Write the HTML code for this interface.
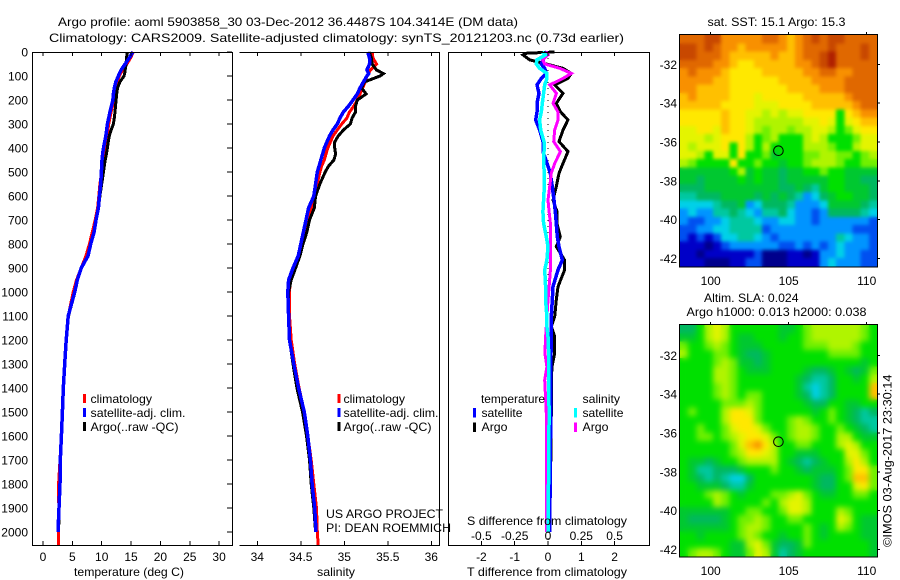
<!DOCTYPE html>
<html>
<head>
<meta charset="utf-8">
<title>Argo profile</title>
<style>
html,body{margin:0;padding:0;background:#fff;}
svg{display:block;}
text{font-family:"Liberation Sans",sans-serif;font-size:12px;fill:#000;}
</style>
</head>
<body>
<svg id="chart" xmlns="http://www.w3.org/2000/svg" width="900" height="580" viewBox="0 0 900 580">
  <defs>
    <filter id="blur-sst" x="-10%" y="-10%" width="120%" height="120%" color-interpolation-filters="sRGB"><feGaussianBlur stdDeviation="1.8"/></filter>
    <filter id="blur-sla" x="-10%" y="-10%" width="120%" height="120%" color-interpolation-filters="sRGB"><feGaussianBlur stdDeviation="3"/></filter>
    <clipPath id="clip-sst"><rect x="680" y="35" width="197" height="231.5"/></clipPath>
    <clipPath id="clip-sla"><rect x="680" y="325" width="197" height="231.5"/></clipPath>
  </defs>
  <rect x="0" y="0" width="900" height="580" fill="#fff"/>
  <text x="58" y="26" textLength="460" lengthAdjust="spacingAndGlyphs">Argo profile: aoml 5903858_30 03-Dec-2012 36.4487S 104.3414E (DM data)</text>
  <text x="49" y="42" textLength="575" lengthAdjust="spacingAndGlyphs">Climatology: CARS2009. Satellite-adjusted climatology: synTS_20121203.nc (0.73d earlier)</text>

  <g id="marks"></g>

  <text x="74" y="576" textLength="110" lengthAdjust="spacingAndGlyphs">temperature (deg C)</text>
  <text x="317" y="576" textLength="38" lengthAdjust="spacingAndGlyphs">salinity</text>
  <text x="467" y="576" textLength="160" lengthAdjust="spacingAndGlyphs">T difference from climatology</text>
  <text x="467" y="525" textLength="160" lengthAdjust="spacingAndGlyphs">S difference from climatology</text>

  <g>
    <rect x="83" y="394" width="3" height="9" fill="#ff0000"/>
    <text x="90.5" y="403" textLength="61.5" lengthAdjust="spacingAndGlyphs">climatology</text>
    <rect x="83" y="408" width="3" height="9" fill="#0000ff"/>
    <text x="90.5" y="417" textLength="95" lengthAdjust="spacingAndGlyphs">satellite-adj. clim.</text>
    <rect x="83" y="422" width="3" height="9" fill="#000"/>
    <text x="90.5" y="431" textLength="88" lengthAdjust="spacingAndGlyphs">Argo(..raw -QC)</text>
  </g>
  <g>
    <rect x="337.5" y="394" width="3" height="9" fill="#ff0000"/>
    <text x="343.5" y="403" textLength="61.5" lengthAdjust="spacingAndGlyphs">climatology</text>
    <rect x="337.5" y="408" width="3" height="9" fill="#0000ff"/>
    <text x="343.5" y="417" textLength="95" lengthAdjust="spacingAndGlyphs">satellite-adj. clim.</text>
    <rect x="337.5" y="422" width="3" height="9" fill="#000"/>
    <text x="343.5" y="431" textLength="88" lengthAdjust="spacingAndGlyphs">Argo(..raw -QC)</text>
  </g>
  <text x="326" y="518" textLength="117" lengthAdjust="spacingAndGlyphs">US ARGO PROJECT</text>
  <text x="326" y="532" textLength="125" lengthAdjust="spacingAndGlyphs">PI: DEAN ROEMMICH</text>

  <g>
    <text x="481" y="403" textLength="64" lengthAdjust="spacingAndGlyphs">temperature</text>
    <rect x="473" y="408" width="3" height="9.5" fill="#0000ff"/>
    <text x="481.5" y="417" textLength="41" lengthAdjust="spacingAndGlyphs">satellite</text>
    <rect x="473" y="422.5" width="3" height="9.5" fill="#000"/>
    <text x="481.5" y="431" textLength="26" lengthAdjust="spacingAndGlyphs">Argo</text>
    <text x="582.5" y="403" textLength="37.5" lengthAdjust="spacingAndGlyphs">salinity</text>
    <rect x="574" y="408" width="3" height="9.5" fill="#00ffff"/>
    <text x="582.5" y="417" textLength="41" lengthAdjust="spacingAndGlyphs">satellite</text>
    <rect x="574" y="422.5" width="3" height="9.5" fill="#ff00ff"/>
    <text x="582.5" y="431" textLength="26" lengthAdjust="spacingAndGlyphs">Argo</text>
  </g>

  <text x="707.5" y="26" textLength="138" lengthAdjust="spacingAndGlyphs">sat. SST: 15.1 Argo: 15.3</text>
  <text x="704" y="302" textLength="94.5" lengthAdjust="spacingAndGlyphs">Altim. SLA: 0.024</text>
  <text x="686.5" y="316" textLength="180" lengthAdjust="spacingAndGlyphs">Argo h1000: 0.013 h2000: 0.038</text>
  <text transform="translate(891.5 547) rotate(-90)" textLength="172.5" lengthAdjust="spacingAndGlyphs">©IMOS 03-Aug-2017 23:30:14</text>
</svg>

<script>
// ---------- profile data ----------
const profileDepths = [0,25,50,75,90,100,125,150,175,200,225,250,275,300,325,350,375,400,425,450,475,500,550,600,650,700,750,800,850,900,950,1000,1100,1200,1300,1400,1500,1600,1700,1800,1900,2000,2054];
const tempClimatology = [15.4,14.9,14.3,13.6,13.2,13,12.7,12.4,12.25,12.1,11.85,11.6,11.4,11.2,11.05,10.9,10.75,10.6,10.4,10.2,10.1,10,9.7,9.5,9.3,8.9,8.4,7.9,7.3,6.5,5.7,5.15,4.3,3.95,3.7,3.45,3.3,3.12,2.9,2.65,2.7,2.6,2.6];
const tempArgo = [14.4,14.2,14.15,14,13.9,13.8,13.1,12.7,12.55,12.45,12.35,12.27,12.15,12,11.6,11.3,11.1,10.97,10.8,10.6,10.45,10.3,10,9.7,9.45,9.05,8.72,8.15,7.7,6.55,5.9,5.45,4.35,3.95,3.7,3.45,3.3,3.15,2.95,2.9,2.75,2.65];
const tempSatellite = [15.3,14.7,14,13.3,13,12.84,12.4,12.15,12,11.9,11.65,11.4,11.2,10.97,10.85,10.7,10.5,10.3,10.15,10.05,10,9.95,9.83,9.6,9.43,9.03,8.7,8.12,7.67,6.5,5.85,5.4,4.3,3.95,3.7,3.46,3.3,3.13,2.95,2.9,2.73,2.56];
const salClimatology = [35.32,35.33,35.37,35.3,35.28,35.26,35.24,35.21,35.18,35.15,35.11,35.06,35.03,34.97,34.92,34.87,34.84,34.81,34.79,34.77,34.74,34.72,34.69,34.655,34.62,34.59,34.55,34.51,34.475,34.41,34.38,34.37,34.37,34.39,34.43,34.48,34.54,34.58,34.62,34.65,34.68,34.69,34.7];
const salArgo = [35.29,35.31,35.32,35.37,35.45,35.41,35.23,35.2,35.25,35.15,35.13,35.13,35.09,35.07,34.99,34.93,34.89,34.89,34.9,34.88,34.82,34.78,34.72,34.67,34.655,34.6,34.57,34.525,34.49,34.44,34.39,34.36,34.36,34.37,34.41,34.455,34.52,34.565,34.6,34.62,34.65,34.67];
const salSatellite = [35.27,35.29,35.29,35.26,35.28,35.26,35.22,35.18,35.15,35.1,35.05,34.99,34.95,34.92,34.87,34.83,34.8,34.77,34.75,34.73,34.71,34.69,34.67,34.65,34.59,34.56,34.53,34.5,34.47,34.41,34.36,34.35,34.36,34.37,34.42,34.475,34.54,34.58,34.61,34.63,34.66,34.675];

const diffDepths = [0,5,12,33,50,68,89,110,137,172,214,250,283,325,373,415,464,505,561,617,665,714,770,811,867,908,978,1033,1103,1144,1186,1256,1311,1367,1505,1728,2000];
const diffTempArgo = [0.2,-0.63,-0.75,-0.55,-0.05,0.45,0.7,0.6,0.2,0.45,0.25,0.38,0.6,0.45,0.33,0.6,0.45,0.33,0.25,0.15,0.27,0.27,0.37,0.25,0.5,0.5,0.3,0.25,0.2,0.1,0.2,0.2,0.12,0.1,0.1,0.08,0.05];
const diffTempSatellite = [-0.1,-0.05,-0.05,-0.15,-0.2,-0.1,-0.05,-0.2,-0.33,-0.27,-0.33,-0.33,-0.37,-0.25,-0.15,-0.15,-0.03,0.07,0.13,0.18,0.22,0.25,0.28,0.33,0.43,0.3,0.15,0.13,0.1,0.1,0.1,0.09,0.08,0.08,0.08,0.07,0.05];
const diffSalArgo = [0,-0.013,0,-0.04,-0.025,0.088,0.175,0.113,0.013,0.063,0.038,0.075,0.075,0.05,0.043,0.093,0.05,0.025,0.013,0,0.008,0.018,0.018,0.018,0.018,0.018,0.008,0,-0.008,-0.013,-0.018,-0.023,-0.008,-0.025,-0.013,-0.013,-0.013];
const diffSalSatellite = [-0.025,-0.033,-0.018,-0.083,-0.088,-0.063,-0.008,-0.008,-0.025,-0.033,-0.043,-0.05,-0.063,-0.055,-0.03,-0.03,-0.033,-0.028,-0.028,-0.033,-0.038,-0.033,-0.013,0,-0.008,-0.025,-0.018,-0.018,-0.008,-0.008,0,0.005,0.005,0.005,0.008,0.005,0];

// ---------- tick labels ----------
const depthTicks = [0,100,200,300,400,500,600,700,800,900,1000,1100,1200,1300,1400,1500,1600,1700,1800,1900,2000];
const tempTicks = [0,5,10,15,20,25,30];
const salTicks = [34,34.5,35,35.5,36];
const diffTTicks = [-2,-1,0,1,2];
const diffSTicks = [-0.5,-0.25,0,0.25,0.5];
const lonTicks = [100,105,110];
const latTicks = [-32,-34,-36,-38,-40,-42];

// ---------- map data (rows north to south, values are colour-scale levels) ----------
const sstLevels = [
[15,15,15,16,16,14,14,14,14,14,15,15,14,13,14,15,16,15,16,16,15,15,15,15],
[16,16,15,16,15,14,14,13,14,14,14,14,14,13,14,15,15,15,16,15,15,15,16,15],
[16,16,15,15,15,14,13,13,13,13,13,14,13,13,14,15,15,16,17,15,15,15,16,15],
[15,15,15,15,14,14,13,12,12,13,13,13,13,13,14,14,15,16,17,15,15,15,15,15],
[14,15,14,14,14,13,12,12,12,12,13,13,13,13,13,14,14,15,15,14,14,15,15,15],
[14,14,14,14,13,13,12,12,12,12,12,12,13,13,13,13,14,14,14,14,15,15,15,15],
[14,14,13,13,13,13,12,12,12,12,12,12,12,13,13,13,13,14,14,14,15,15,15,15],
[13,14,13,13,13,13,12,12,12,11,12,12,12,12,12,13,13,13,13,13,14,15,15,15],
[13,13,13,13,13,12,12,12,12,11,11,11,12,12,12,12,13,13,13,13,13,14,15,15],
[12,12,12,12,12,13,12,12,11,11,10,11,10,11,11,12,12,12,12,8,12,13,14,14],
[12,12,12,12,12,13,12,12,11,10,10,10,10,10,10,11,11,12,11,8,11,12,13,13],
[11,11,12,12,11,13,12,12,11,10,9,10,10,9,10,10,11,11,10,8,9,11,12,12],
[11,11,11,10,11,12,12,12,10,8,9,10,8,8,8,10,11,10,8,8,8,9,11,11],
[11,10,11,11,11,12,8,12,10,8,10,8,8,8,8,10,10,10,9,8,8,10,11,11],
[11,11,10,8,11,11,8,12,8,8,9,7,8,8,8,9,9,10,10,9,9,8,9,10],
[10,9,8,8,8,8,12,8,8,9,8,8,7,8,8,9,10,10,10,9,8,8,9,9],
[7,7,7,7,7,7,8,10,7,8,7,7,6,7,7,8,8,9,8,8,7,7,7,7],
[7,7,6,7,7,7,7,8,7,8,7,7,6,7,7,7,7,7,8,8,7,7,6,6],
[6,6,6,7,7,7,7,7,7,7,7,7,6,6,7,6,5,7,8,8,7,7,7,6],
[5,5,6,6,6,7,7,7,7,6,7,6,7,6,5,3,4,6,7,8,8,7,7,6],
[4,4,4,4,5,6,6,7,3,4,6,6,6,5,3,3,3,4,7,7,7,7,6,5],
[3,4,3,3,5,5,6,5,4,3,5,5,6,4,3,3,2,3,6,6,6,6,5,4],
[3,2,2,3,3,4,5,5,5,4,3,3,4,4,3,3,2,3,3,3,3,3,3,2],
[2,2,3,3,4,4,5,5,5,5,2,3,3,3,3,3,3,3,3,3,3,2,2,2],
[2,1,2,1,2,4,4,5,5,4,3,2,3,3,3,3,3,3,3,5,4,3,3,2],
[1,1,1,0,1,2,3,3,3,3,3,3,2,2,3,2,3,2,3,4,3,3,3,2],
[1,1,0,1,1,1,1,1,1,2,0,0,0,1,1,0,1,3,3,4,3,3,2,2],
[1,1,1,0,0,0,1,1,2,2,0,0,0,1,1,1,1,3,4,3,3,3,2,2]
];
const slaLevels = [
[6,6,8,10,11,10,8,8,8,8,8,8,7,7,8,9,10,10,10,10,10,10,9,8],
[7,7,8,10,11,10,8,7,7,8,8,8,7,8,8,9,10,10,10,10,10,10,9,8],
[9,8,8,9,10,9,8,7,7,7,8,8,8,8,8,9,9,9,10,10,10,9,8,8],
[10,8,8,8,9,9,8,7,6,6,7,8,8,8,8,8,8,8,9,9,9,9,8,8],
[8,8,8,8,9,10,9,7,7,6,7,8,8,8,8,8,8,8,8,8,8,8,7,8],
[8,8,8,8,10,10,9,8,7,7,7,8,8,8,8,7,6,6,7,8,7,6,7,9],
[8,8,8,8,10,10,9,8,8,8,8,8,8,8,7,6,5,5,6,8,8,7,8,10],
[8,8,8,8,9,10,9,8,8,8,8,8,8,8,7,5,4,5,6,8,8,8,8,13],
[8,8,8,8,9,10,9,8,9,9,8,8,8,8,7,6,4,5,6,8,8,8,8,13],
[8,8,8,8,8,9,9,9,10,9,8,8,8,8,8,7,6,6,8,8,7,7,8,8],
[8,9,8,8,8,10,12,12,11,9,8,8,8,8,8,8,7,8,9,8,7,6,5,6],
[8,8,8,8,8,10,12,12,12,9,8,8,8,9,10,9,8,8,9,8,7,6,5,5],
[8,8,9,8,8,9,11,12,12,11,9,8,8,9,10,10,9,8,8,9,8,7,6,5],
[8,8,9,9,8,9,10,11,12,12,11,9,8,9,10,10,9,8,8,10,10,8,7,7],
[8,8,8,8,8,8,9,11,13,14,12,10,8,8,9,9,8,8,8,10,11,10,8,8],
[8,8,8,8,8,8,9,10,12,12,11,10,8,8,7,7,7,8,8,8,11,11,9,8],
[8,7,7,6,7,8,8,9,10,10,10,10,8,7,6,5,6,7,8,8,10,12,10,8],
[8,7,5,5,6,6,6,7,8,8,8,9,8,8,7,6,7,7,7,8,9,12,12,9],
[8,7,6,5,6,5,4,4,6,8,8,8,8,8,8,8,7,6,6,8,9,13,13,9],
[8,8,7,7,7,6,5,5,7,8,8,8,8,8,8,8,7,6,6,8,8,11,12,9],
[8,8,8,9,10,9,8,7,8,8,8,9,9,10,11,9,8,7,7,8,8,9,9,8],
[8,8,8,8,10,9,8,8,8,8,9,8,10,11,11,10,8,8,8,8,8,8,8,8],
[7,7,7,7,7,7,8,8,9,9,8,8,9,11,11,10,8,8,8,10,9,8,8,8],
[7,6,6,6,6,7,8,9,9,10,9,8,8,9,9,8,8,8,8,11,10,8,7,7],
[7,7,7,7,7,7,8,9,10,10,9,8,8,8,8,9,8,7,8,10,9,8,7,7],
[8,8,7,8,8,8,8,9,10,9,8,8,7,8,8,9,8,7,8,8,8,8,7,7],
[8,8,8,8,8,8,7,7,10,11,9,7,6,6,7,9,8,8,8,8,8,8,8,7],
[8,9,10,10,9,8,7,7,9,11,10,7,5,6,7,8,8,8,8,8,8,8,8,7]
];
const floatLon = 104.3414;
const floatLat = -36.4487;

// ---------- axis functions ----------
const SVGNS = 'http://www.w3.org/2000/svg';
const marks = document.getElementById('marks');
const yDepth = d => 52 + 0.24 * d;
const xTemp = v => 43 + 5.87 * v;
const xSal = v => 257.3 + 87 * (v - 34);
const xDiffT = v => 548 + 33.3 * v;
const xDiffS = v => 548 + 133.2 * v;
const xLon = v => 710.7 + 15.6 * (v - 100);
const LON_LEFT = 98.03;
const LON_RIGHT = 110.67;
const palette = ['#00008c','#0000c8','#0050f0','#0094ff','#00d0e8','#00c8a0','#00b860','#00c830','#00e000','#70f000','#b0f400','#e4f400','#ffe800','#ffc000','#f89000','#e06800','#c84800','#b02000'];

function svgEl(tag, attrs, parent) {
  const el = document.createElementNS(SVGNS, tag);
  for (const k in attrs) el.setAttribute(k, attrs[k]);
  (parent || marks).appendChild(el);
  return el;
}
function seg(x1, y1, x2, y2, parent) {
  return svgEl('line', {x1: x1, y1: y1, x2: x2, y2: y2, stroke: '#000', 'stroke-width': 1, 'shape-rendering': 'crispEdges'}, parent);
}
function label(str, x, y, anchor, parent) {
  const t = svgEl('text', {x: x, y: y, 'text-anchor': anchor}, parent);
  t.textContent = str;
  return t;
}
function profileLine(xFn, values, depths, color, width, parent) {
  const pts = values.map((v, i) => xFn(v).toFixed(1) + ',' + yDepth(depths[i]).toFixed(1)).join(' ');
  return svgEl('polyline', {points: pts, fill: 'none', stroke: color, 'stroke-width': width, 'stroke-linejoin': 'miter', 'shape-rendering': 'crispEdges'}, parent);
}

// ---------- panel 1: temperature ----------
const tempPanel = svgEl('g', {});


const tempClimLine = profileLine(xTemp, tempClimatology, profileDepths, '#ff0000', 3, tempPanel);


const tempArgoLine = profileLine(xTemp, tempArgo, profileDepths, '#000000', 3, tempPanel);


const tempSatLine = profileLine(xTemp, tempSatellite, profileDepths, '#0000ff', 3.5, tempPanel);


const tempFrame = svgEl('path', {d: 'M32.5 52.5H232.5V545.5H32.5Z', fill: 'none', stroke: '#000', 'shape-rendering': 'crispEdges'}, tempPanel);



depthTicks.forEach(function (d) {
  const y = yDepth(d);
  const tick = seg(227, y, 232, y, tempPanel);
  
  
  const t = label(String(d), 28, y + 4.5, 'end', tempPanel);
  
  
});
tempTicks.forEach(function (v) {
  const x = xTemp(v);
  const top = seg(x, 52, x, 56, tempPanel);
  
  
  const bot = seg(x, 541, x, 545, tempPanel);
  
  
  const t = label(String(v), x, 561, 'middle', tempPanel);
  
  
});

// ---------- panel 2: salinity ----------
const salPanel = svgEl('g', {});


const salClimLine = profileLine(xSal, salClimatology, profileDepths, '#ff0000', 3, salPanel);


const salArgoLine = profileLine(xSal, salArgo, profileDepths, '#000000', 3, salPanel);


const salSatLine = profileLine(xSal, salSatellite, profileDepths, '#0000ff', 3.5, salPanel);


const salFrame = svgEl('path', {d: 'M239.5 52.5H439.5V545.5H239.5', fill: 'none', stroke: '#000', 'shape-rendering': 'crispEdges'}, salPanel);


salTicks.forEach(function (v) {
  const x = xSal(v);
  const top = seg(x, 52, x, 56, salPanel);
  
  
  const bot = seg(x, 541, x, 545, salPanel);
  
  
  const t = label(String(v), x, 561, 'middle', salPanel);
  
  
});

// ---------- panel 3: differences ----------
const diffPanel = svgEl('g', {});


const zeroLine = svgEl('line', {x1: xDiffT(0), y1: 52, x2: xDiffT(0), y2: 545, stroke: '#000', 'stroke-width': 1, 'stroke-dasharray': '1 5', 'shape-rendering': 'crispEdges'}, diffPanel);


const diffTArgoLine = profileLine(xDiffT, diffTempArgo, diffDepths, '#000000', 3, diffPanel);


const diffTSatLine = profileLine(xDiffT, diffTempSatellite, diffDepths, '#0000ff', 3.5, diffPanel);


const diffSArgoLine = profileLine(xDiffS, diffSalArgo, diffDepths, '#ff00ff', 3, diffPanel);


const diffSSatLine = profileLine(xDiffS, diffSalSatellite, diffDepths, '#00ffff', 3.5, diffPanel);


const diffFrame = svgEl('path', {d: 'M448.5 52.5H649.5V545.5H448.5Z', fill: 'none', stroke: '#000', 'shape-rendering': 'crispEdges'}, diffPanel);


diffTTicks.forEach(function (v) {
  const x = xDiffT(v);
  const top = seg(x, 52, x, 56, diffPanel);
  
  
  const bot = seg(x, 541, x, 545, diffPanel);
  
  
  const t = label(String(v), x, 561, 'middle', diffPanel);
  
  
});
diffSTicks.forEach(function (v) {
  const t = label(String(v), xDiffS(v), 540, 'middle', diffPanel);
  
  
});

// ---------- maps ----------
function drawMap(name, levels, top, bottom, latAt36, filterId, clipId) {
  const yLat = v => latAt36 + 19.4 * (-36 - v);
  const g = svgEl('g', {});
  
  
  const cellsGroup = svgEl('g', {id: name + '-cells'}, g);
  
  
  const rows = levels.length;
  const cols = levels[0].length;
  const lonStep = (LON_RIGHT - LON_LEFT) / cols;
  const rowH = (bottom - top) / rows;
  levels.forEach(function (row, r) {
    row.forEach(function (v, c) {
      const x0 = xLon(LON_LEFT + c * lonStep);
      const x1 = xLon(LON_LEFT + (c + 1) * lonStep);
      const cell = svgEl('rect', {x: x0.toFixed(2), y: (top + r * rowH).toFixed(2), width: (x1 - x0 + 0.4).toFixed(2), height: (rowH + 0.4).toFixed(2), fill: palette[Math.max(0, Math.min(palette.length - 1, Math.round(v)))], 'shape-rendering': 'crispEdges'}, cellsGroup);
      
      
    });
  });
  // soften the coarse cells: a blurred copy clipped to the frame sits over the sharp cells
  const softWrap = svgEl('g', {'clip-path': 'url(#' + clipId + ')'}, g);
  
  
  const soft = svgEl('use', {href: '#' + name + '-cells', filter: 'url(#' + filterId + ')'}, softWrap);
  
  

  const frame = svgEl('rect', {x: 679.5, y: top - 0.5, width: 198, height: bottom - top + 1, fill: 'none', stroke: '#000', 'shape-rendering': 'crispEdges'}, g);
  
  
  lonTicks.forEach(function (v) {
    const x = xLon(v);
    const tickTop = seg(x, top - 3, x, top, g);
    
    
    const t = label(String(v), x, bottom + 18.5, 'middle', g);
    
    
  });
  latTicks.forEach(function (v) {
    const y = yLat(v);
    const tickRight = seg(877, y, 880, y, g);
    
    
    const t = label(String(v), 677, y + 4.5, 'end', g);
    
    
  });
  const dot = svgEl('circle', {cx: xLon(floatLon), cy: yLat(floatLat), r: 4.8, fill: 'none', stroke: '#000', 'stroke-width': 1}, g);
  
  
}
drawMap('sst-map', sstLevels, 35, 266.5, 142, 'blur-sst', 'clip-sst');
drawMap('sla-map', slaLevels, 325, 556.5, 433, 'blur-sla', 'clip-sla');
</script>
</body>
</html>
